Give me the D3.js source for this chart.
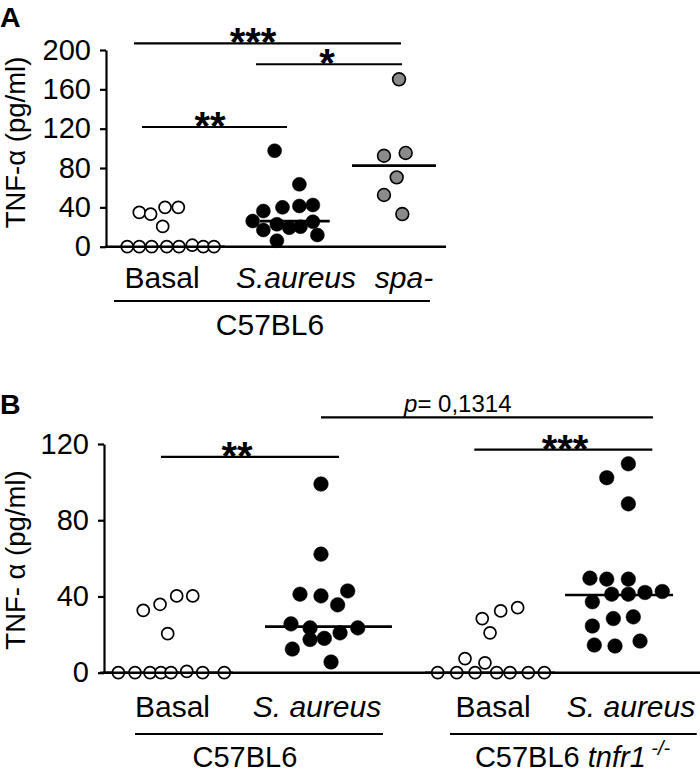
<!DOCTYPE html>
<html><head><meta charset="utf-8">
<script src="https://cdn.jsdelivr.net/npm/d3@7/dist/d3.min.js"></script>
<style>
html,body{margin:0;padding:0;background:#fff;}
text{font-family:"Liberation Sans",Arial,Helvetica,sans-serif;fill:#000;}
</style></head>
<body><div id="chart"></div>
<script>
// ---------- Panel A data ----------
const A_categories = ["Basal", "S.aureus", "spa-"];
const A_catItalic = [false, true, true];
const A_labelPos = [0.93, 2.12, 3.08];
const A_yTicks = [0, 40, 80, 120, 160, 200];

const A_basal_val = [0,0,0,0,0,1.5,0,0, 34.9,33.2,40,40,20.6];
const A_basal_pos = [0.62,0.727,0.837,0.971,1.08,1.198,1.296,1.391, 0.727,0.828,0.956,1.074,0.935];
const A_saureus_val = [97.6,63.4,36.3,40,41.4,42.4,26.1,22.8,19.3,20.3,25.4,17,11.9,6.1];
const A_saureus_pos = [1.93,2.15,1.83,2.0,2.15,2.27,1.735,1.95,2.06,2.16,2.27,1.83,2.31,1.95];
const A_spa_val = [170.2,95.3,92.5,70.5,52.6,33.2];
const A_spa_pos = [3.036,3.095,2.902,3.015,2.902,3.065];

const A_medians = [0, 26, 82.4];
const A_medianSpan = [[0.556,1.489],[1.80,2.42],[2.618,3.364]];

const A_sigLabels = ["***", "*", "**"];
const A_sigY = [206.8, 185.5, 121.7];
const A_sigSpan = [[0.68,3.053],[1.764,3.062],[0.751,2.04]];
const A_sigLabelPos = [1.738, 2.396, 1.356];

const A_groupLabel = "C57BL6";
const A_groupSpan = [0.502, 3.311];
const A_groupLabelPos = 1.889;

// ---------- Panel B data ----------
const B_categories = ["Basal", "S. aureus", "Basal", "S. aureus"];
const B_catItalic = [false, true, false, true];
const B_labelPos = [1.01, 1.973, 3.147, 4.067];
const B_yTicks = [0, 40, 80, 120];

const B_basalWT_val = [0,0,0,0,0,0.7,0,0, 32.7,35.9,40.3,40.3,20.5];
const B_basalWT_pos = [0.649,0.76,0.86,0.933,1.0,1.105,1.211,1.355, 0.815,0.927,1.038,1.145,0.978];
const B_saureusWT_val = [99,62.2,41.2,40.3,42.9,35.6,25.6,23.5,23.5,20.9,18,17.4,12.4,5.6];
const B_saureusWT_pos = [2.0,2.0,1.86,2.0,2.178,2.111,1.8,1.927,2.245,2.127,2.022,1.927,1.809,2.067];
const B_basalKO_val = [0,0,0,0,0,0,0, 7.4,5.2, 28.4,32.4,34.1,20.9];
const B_basalKO_pos = [2.778,2.905,3.027,3.171,3.26,3.382,3.489, 2.96,3.093, 3.075,3.198,3.311,3.127];
const B_saureusKO_val = [109.6,102.3,88.6,49.6,49.1,49.1,41.2,41.2,42.1,42.6,37.2,24.5,28.4,29.3,14.5,14,16.6];
const B_saureusKO_pos = [4.049,3.905,4.049,3.793,3.905,4.049,3.938,4.049,4.16,4.275,3.809,3.809,3.949,4.082,3.822,3.96,4.127];

const B_medians = [0, 24.2, 0, 40.8];
const B_medianSpan = [[0.527,1.413],[1.627,2.473],[2.693,3.56],[3.627,4.347]];

const B_sigLabels = ["**", "***"];
const B_sigY = [113.2, 117.1];
const B_sigSpan = [[0.933,2.12],[3.022,4.209]];
const B_sigLabelPos = [1.44, 3.627];
const B_pLabel = "0,1314";
const B_pY = 134;
const B_pSpan = [2.0, 4.213];
const B_pLabelPos = 2.912;

const B_groupLabels = ["C57BL6", "C57BL6 tnfr1 -/-"];
const B_groupSpan = [[0.76,2.413],[2.86,4.505]];
const B_groupLabelPos = [1.493, 3.677];

// ---------- drawing ----------
const W = 700, H = 775;
const svg = d3.select("#chart").append("svg").attr("width", W).attr("height", H);
const TICKFONT = 29;

function panel(cfg) {
  const g = svg.append("g");
  const x = d3.scaleLinear().domain([0, 4]).range(cfg.xRange);
  const y = d3.scaleLinear().domain(cfg.yDomain).range(cfg.yRange);
  const y0 = y(0);

  // y axis
  const ax = g.append("g").attr("transform", `translate(${cfg.axisX},0)`)
    .call(d3.axisLeft(y).tickValues(cfg.yTicks).tickSize(6).tickSizeOuter(0).tickPadding(9));
  ax.selectAll("path,line").attr("stroke", "#000").attr("stroke-width", 2.2);
  ax.selectAll("text").attr("font-size", TICKFONT).attr("font-family", "Liberation Sans, Arial, sans-serif").attr("fill", "#000");
  // x axis line
  g.append("line").attr("x1", cfg.axisX - 1).attr("x2", cfg.xAxisEnd).attr("y1", y0).attr("y2", y0)
    .attr("stroke", "#000").attr("stroke-width", 2.4);

  // points
  cfg.groups.forEach(gr => {
    g.append("g").selectAll("circle").data(gr.val.map((v, i) => ({v, p: gr.pos[i]})))
      .join("circle")
      .attr("cx", d => x(d.p)).attr("cy", d => y(d.v))
      .attr("r", gr.r).attr("fill", gr.fill)
      .attr("stroke", "#000").attr("stroke-width", gr.sw);
  });

  // medians
  g.append("g").selectAll("line").data(cfg.medians.map((m, i) => ({m, s: cfg.medianSpan[i]})))
    .join("line")
    .attr("x1", d => x(d.s[0])).attr("x2", d => x(d.s[1]))
    .attr("y1", d => y(d.m)).attr("y2", d => y(d.m))
    .attr("stroke", "#000").attr("stroke-width", 2.6);

  // significance bars
  cfg.sigLabels.forEach((lab, i) => {
    const yy = y(cfg.sigY[i]);
    g.append("line").attr("x1", x(cfg.sigSpan[i][0])).attr("x2", x(cfg.sigSpan[i][1]))
      .attr("y1", yy).attr("y2", yy).attr("stroke", "#000").attr("stroke-width", 2.2);
    g.append("text").attr("x", x(cfg.sigLabelPos[i])).attr("y", yy + 13)
      .attr("text-anchor", "middle").attr("font-size", 40).attr("font-weight", "bold").text(lab);
  });

  // category labels
  cfg.categories.forEach((c, i) => {
    g.append("text").attr("x", x(cfg.labelPos[i])).attr("y", cfg.labelBaseline)
      .attr("text-anchor", "middle").attr("font-size", 30)
      .attr("font-style", cfg.italic[i] ? "italic" : "normal").text(c);
  });

  // y title
  g.append("text").attr("transform", `translate(25,${cfg.titleY}) rotate(-90)`)
    .attr("text-anchor", "middle").attr("font-size", 27.5).text(cfg.title);

  // panel letter
  g.append("text").attr("x", 0).attr("y", cfg.letterY).attr("font-size", 28.5)
    .attr("font-weight", "bold").text(cfg.letter);
  return {g, x, y};
}

// Panel A
const pA = panel({
  xRange: [57.5, 507.5], yDomain: [0, 200], yRange: [246.7, 50], yTicks: A_yTicks,
  axisX: 106, xAxisEnd: 446,
  groups: [
    {val: A_basal_val, pos: A_basal_pos, r: 6, fill: "#fff", sw: 1.7},
    {val: A_saureus_val, pos: A_saureus_pos, r: 7, fill: "#000", sw: 0.5},
    {val: A_spa_val, pos: A_spa_pos, r: 6.4, fill: "#8a8a8a", sw: 1.6}
  ],
  medians: A_medians, medianSpan: A_medianSpan,
  sigLabels: A_sigLabels, sigY: A_sigY, sigSpan: A_sigSpan, sigLabelPos: A_sigLabelPos,
  categories: A_categories, italic: A_catItalic, labelPos: A_labelPos, labelBaseline: 288,
  title: "TNF-\u03b1 (pg/ml)", titleY: 142.5, letter: "A", letterY: 26.5
});
pA.g.append("line").attr("x1", pA.x(A_groupSpan[0])).attr("x2", pA.x(A_groupSpan[1]))
  .attr("y1", 301).attr("y2", 301).attr("stroke", "#000").attr("stroke-width", 2.2);
pA.g.append("text").attr("x", pA.x(A_groupLabelPos)).attr("y", 335)
  .attr("text-anchor", "middle").attr("font-size", 30).text(A_groupLabel);

// Panel B
const pB = panel({
  xRange: [21, 621], yDomain: [0, 120], yRange: [672.7, 444], yTicks: B_yTicks,
  axisX: 104, xAxisEnd: 700,
  groups: [
    {val: B_basalWT_val, pos: B_basalWT_pos, r: 6, fill: "#fff", sw: 1.7},
    {val: B_saureusWT_val, pos: B_saureusWT_pos, r: 7.3, fill: "#000", sw: 0.5},
    {val: B_basalKO_val, pos: B_basalKO_pos, r: 6, fill: "#fff", sw: 1.7},
    {val: B_saureusKO_val, pos: B_saureusKO_pos, r: 7.3, fill: "#000", sw: 0.5}
  ],
  medians: B_medians, medianSpan: B_medianSpan,
  sigLabels: B_sigLabels, sigY: B_sigY, sigSpan: B_sigSpan, sigLabelPos: B_sigLabelPos,
  categories: B_categories, italic: B_catItalic, labelPos: B_labelPos, labelBaseline: 716.7,
  title: "TNF- \u03b1 (pg/ml)", titleY: 560, letter: "B", letterY: 414
});
// p-value bar
{
  const yy = pB.y(B_pY);
  pB.g.append("line").attr("x1", pB.x(B_pSpan[0])).attr("x2", pB.x(B_pSpan[1]))
    .attr("y1", yy).attr("y2", yy).attr("stroke", "#000").attr("stroke-width", 2.2);
  const t = pB.g.append("text").attr("x", pB.x(B_pLabelPos)).attr("y", yy - 5.5)
    .attr("text-anchor", "middle").attr("font-size", 24);
  t.append("tspan").attr("font-style", "italic").text("p");
  t.append("tspan").text("= " + B_pLabel);
}
// group lines & labels
B_groupSpan.forEach((s, i) => {
  pB.g.append("line").attr("x1", pB.x(s[0])).attr("x2", pB.x(s[1]))
    .attr("y1", 734).attr("y2", 734).attr("stroke", "#000").attr("stroke-width", 2.2);
  const parts = B_groupLabels[i].split(" ");
  const t = pB.g.append("text").attr("x", pB.x(B_groupLabelPos[i])).attr("y", 767)
    .attr("text-anchor", "middle").attr("font-size", 29);
  t.append("tspan").text(parts[0]);
  if (parts.length > 1) {
    t.append("tspan").attr("font-style", "italic").text(" " + parts[1]);
    t.append("tspan").attr("font-style", "italic").attr("font-size", 20).attr("dy", -12).text(" " + parts[2]);
  }
});
</script></body></html>
